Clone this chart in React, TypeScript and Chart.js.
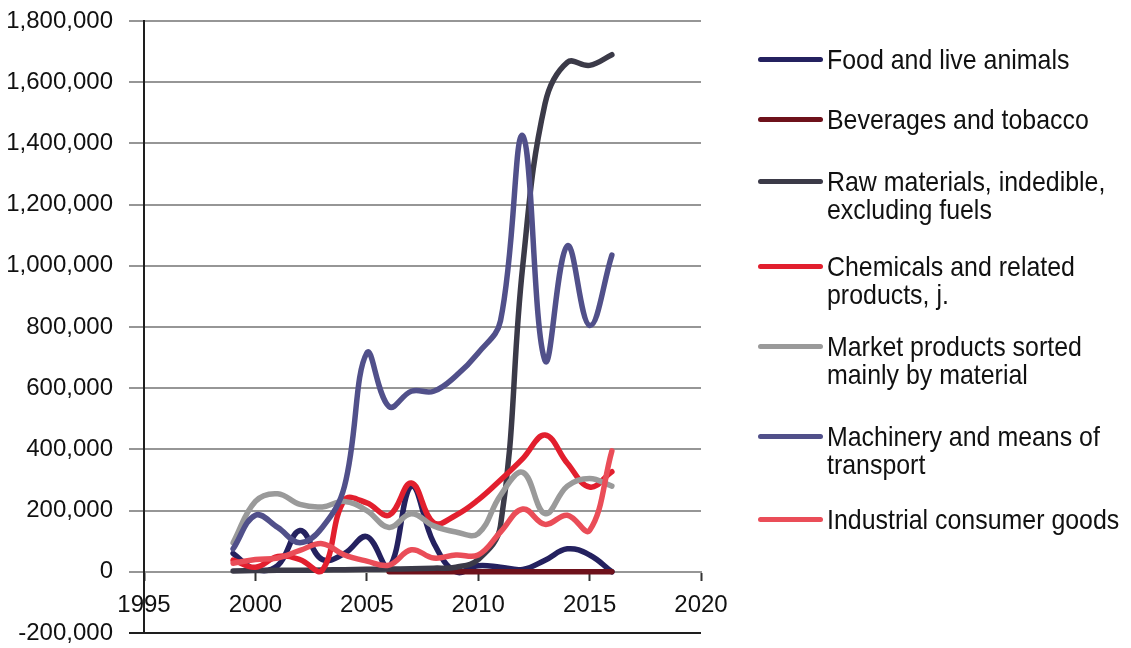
import React, { useEffect, useRef } from "react";
import { Chart, registerables } from "chart.js";

Chart.register(...registerables);

// ---- data ----
const years = [1999, 2000, 2001, 2002, 2003, 2004, 2005, 2006, 2007, 2008, 2009, 2010, 2011, 2012, 2013, 2014, 2015, 2016];

const seriesNames = [
  "Food and live animals",
  "Beverages and tobacco",
  "Raw materials, indedible, excluding fuels",
  "Chemicals and related products, j.",
  "Market products sorted mainly by material",
  "Machinery and means of transport",
  "Industrial consumer goods",
];

const foodLiveAnimals = [60000, 8000, 20000, 135000, 40000, 60000, 115000, 15000, 280000, 95000, 0, 20000, 15000, 8000, 38000, 75000, 55000, 0];
const beveragesTobacco = [null, null, null, null, null, null, null, 0, 0, 0, 0, 0, 0, 0, 0, 0, 0, 0];
const rawMaterials = [3000, 4000, 5000, 5000, 6000, 7000, 8000, 9000, 10000, 12000, 15000, 40000, 150000, 1000000, 1530000, 1665000, 1655000, 1690000];
const chemicals = [38000, 15000, 50000, 40000, 5000, 235000, 225000, 185000, 290000, 160000, 185000, 235000, 300000, 370000, 447000, 355000, 277000, 327000];
const marketProducts = [95000, 230000, 255000, 220000, 212000, 230000, 200000, 145000, 190000, 150000, 130000, 125000, 250000, 325000, 190000, 280000, 305000, 280000];
const machinery = [75000, 185000, 145000, 95000, 145000, 280000, 715000, 540000, 590000, 590000, 640000, 715000, 820000, 1425000, 690000, 1065000, 805000, 1035000];
const industrialGoods = [28000, 40000, 45000, 70000, 92000, 55000, 35000, 22000, 72000, 45000, 55000, 55000, 130000, 205000, 155000, 185000, 135000, 395000];

const seriesValues = [foodLiveAnimals, beveragesTobacco, rawMaterials, chemicals, marketProducts, machinery, industrialGoods];

const xTickMin = 1995;
const xTickMax = 2020;
const xTickStep = 5;
const yTickMin = -200000;
const yTickMax = 1800000;
const yTickStep = 200000;

// ---- styles ----
const seriesColors = ["#24215f", "#6e111b", "#3b3a48", "#e21f2e", "#9a9a9a", "#51508a", "#ea4d58"];
const legendTextCenters = [60, 120, 182, 267, 347, 437, 520];
const FONT = '"Liberation Sans", Arial, Helvetica, sans-serif';

export default function App() {
  const canvasRef = useRef<HTMLCanvasElement | null>(null);

  useEffect(() => {
    document.body.style.margin = "0";
    const canvas = canvasRef.current;
    if (!canvas) return;
    const gridColor = (ctx: any) =>
      ctx.tick && ctx.tick.value === yTickMin ? "#1e1e1e" : "#969696";
    const chart = new Chart(canvas, {
      type: "line",
      data: {
        datasets: seriesValues.map((vals, i) => ({
          label: seriesNames[i],
          data: vals.map((v, j) => ({ x: years[j], y: v })),
          borderColor: seriesColors[i],
          backgroundColor: seriesColors[i],
          borderWidth: 5.5,
          pointRadius: 0,
          pointHoverRadius: 0,
          tension: 0.4,
          fill: false,
          spanGaps: false,
          borderCapStyle: "round",
          borderJoinStyle: "round",
          order: seriesValues.length - 1 - i,
        })),
      },
      options: {
        animation: false,
        responsive: true,
        maintainAspectRatio: false,
        layout: { padding: { left: 0, top: 21, right: 430, bottom: 15 } },
        plugins: {
          legend: { display: false },
          tooltip: { enabled: false },
        },
        scales: {
          x: {
            type: "linear",
            min: xTickMin,
            max: xTickMax,
            position: { y: 0 } as any,
            ticks: {
              stepSize: xTickStep,
              callback: (v: any) => String(v),
              font: { family: FONT, size: 24 },
              color: "#111",
              padding: 11,
              maxRotation: 0,
              autoSkip: false,
            },
            grid: {
              drawOnChartArea: false,
              drawTicks: true,
              tickLength: 8,
              tickColor: "#333",
              tickWidth: 2,
            },
            border: { display: true, color: "#969696", width: 2 },
            afterFit: (scale: any) => {
              scale.paddingTop = 0;
              scale.paddingBottom = 0;
            },
          },
          y: {
            type: "linear",
            min: yTickMin,
            max: yTickMax,
            ticks: {
              stepSize: yTickStep,
              callback: (v: any) => Number(v).toLocaleString("en-US"),
              font: { family: FONT, size: 24 },
              color: "#111",
              padding: 16,
            },
            grid: {
              color: gridColor,
              tickColor: gridColor,
              lineWidth: 2,
              tickWidth: 2,
              tickLength: 15,
              drawTicks: true,
            },
            border: { display: true, color: "#1e1e1e", width: 2 },
            afterFit: (scale: any) => {
              scale.width = 144;
              scale.paddingTop = 0;
              scale.paddingBottom = 0;
            },
          },
        },
      },
    });
    return () => chart.destroy();
  }, []);

  return (
    <div style={{ position: "fixed", left: 0, top: 0, width: 1131, height: 648, background: "#fff" }}>
      <canvas ref={canvasRef} style={{ display: "block" }} />
      {seriesNames.map((name, i) => (
        <div
          key={name}
          style={{
            position: "absolute",
            left: 756,
            top: legendTextCenters[i] - 14.2,
            width: 375,
          }}
        >
          <div
            style={{
              position: "absolute",
              left: 2,
              top: 11.5,
              width: 65,
              height: 5,
              borderRadius: 3,
              background: seriesColors[i],
            }}
          />
          <div
            style={{
              position: "absolute",
              left: 71,
              top: 0,
              width: 335,
              fontFamily: FONT,
              fontSize: 28,
              lineHeight: "28.5px",
              color: "#111",
              transform: "scaleX(0.89)",
              transformOrigin: "left top",
              whiteSpace: "normal",
            }}
          >
            {name}
          </div>
        </div>
      ))}
    </div>
  );
}
